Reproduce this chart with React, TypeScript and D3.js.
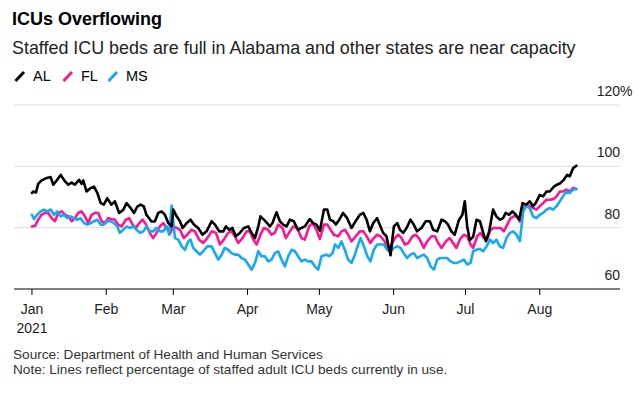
import * as d3 from "d3";

// day offsets from Jan 1 2021, percent of staffed adult ICU beds in use
const AL: [number, number][] = [[0,91.3],[0.5,91.8],[1.7,91.5],[2.6,94.3],[4,95.4],[5.8,96.1],[7.8,96.5],[8.9,94],[10.3,95.4],[12,97.2],[13.8,95.1],[15.2,94],[16.6,94.7],[17.9,94],[19.7,95.6],[20.7,94.3],[21.4,95.4],[22.8,91.8],[24.5,92.9],[25.9,93.4],[27.3,91.3],[28.7,88],[30,87.5],[31.4,89.6],[33.2,87.5],[34.6,88.6],[36.4,84.8],[38.1,85.8],[39.5,88],[41.2,86.4],[42.6,84.8],[44,86.9],[45.3,87.5],[46.7,86.9],[47.8,84.2],[49.9,82],[51.3,82],[52.7,84.8],[54.1,85.3],[55.5,84.2],[56.9,81.5],[58.3,80.4],[59,85.9],[60.4,83.7],[61.8,82.1],[62.9,79.9],[64.6,81.5],[66.2,82.6],[67.6,81],[69.4,79.9],[71.2,77.7],[72.9,78.8],[75,82.1],[76.4,81],[78.2,78.8],[79.9,78.8],[81,80.4],[82.4,79.3],[83.7,79.9],[85.1,77.2],[86.8,78.3],[88.5,79.9],[90.3,80.4],[91.7,78.3],[93.1,76.6],[94.5,80.4],[95.4,83.7],[96.8,82.6],[98.2,81.5],[99.3,80.4],[100.4,81.5],[102.1,85],[103.5,82.1],[104.9,81],[106.3,80.4],[107.7,82.6],[109.3,82.1],[111.1,79.3],[112.5,79.9],[113.9,80.4],[116,82.8],[117.4,81.5],[118.8,81],[120.2,79],[121.9,85.9],[123.3,85.9],[124.4,82.6],[125.8,82.1],[126.9,81],[128.3,82.6],[129.9,84.8],[131.6,83.1],[133.4,79.9],[135.5,82.6],[136.9,84.2],[138.3,84.8],[139.7,82.6],[141.1,78.8],[142.5,81.5],[144.1,83.1],[145.5,80.4],[146.6,78.3],[148,77.2],[148.7,74.5],[149.7,71],[151.1,80.4],[152.5,81.5],[153.6,79.3],[155,78.3],[156.4,79.9],[158,82.6],[159.4,81],[160.8,78.8],[162.6,79.9],[164.4,82.1],[166.1,82.1],[167.5,79.3],[169.2,78.8],[171,82.6],[172.4,82.1],[173.7,81],[175.1,78.8],[176.5,77.7],[178.3,82.6],[179.7,84.2],[180.7,88.6],[181.7,80.4],[182.8,76],[184.2,77],[185.6,82.6],[187,82.1],[188.4,78.3],[189.5,75.6],[190.9,78.8],[192.5,85.9],[193.9,83.7],[195.3,82.6],[196.7,83.1],[197.8,84.8],[199.2,84.2],[200.6,85.3],[202,84.2],[203.4,82.6],[204.8,88],[206.4,87.5],[207.8,88.6],[209.2,87],[210.3,88],[212,90.7],[213.4,90.2],[214.8,91.8],[216.2,91.8],[217.9,93.4],[219.2,94],[220.6,94.5],[222,95.6],[223.4,97.2],[224.5,96.7],[225.9,99.4],[227.3,100.2]];

const FL: [number, number][] = [[0,80.4],[1.3,80.6],[2.6,82.6],[4,84.2],[5.4,84.8],[6.8,84.8],[8.2,83.1],[9.6,82.1],[11,84.8],[12.4,85.3],[13.8,84.2],[15.2,83.7],[16.6,82.1],[18,83.1],[19.3,84.8],[20.7,85.3],[22.1,83.7],[23.5,81.5],[24.9,84.2],[26.3,84.8],[27.7,84.8],[29.1,82.1],[30.5,81.5],[31.8,83.1],[33.2,82.8],[34.6,82.6],[36,81],[37.4,80.4],[39.2,82.6],[40.6,83.1],[42,81],[43.4,79.9],[44.8,81.5],[46.2,82.6],[47.6,81],[49.2,78.3],[50.6,76.6],[52,78.3],[53.4,80.4],[54.8,81.5],[56.2,79.9],[57.6,78],[59,80.4],[60.4,79.9],[61.8,79.3],[63.4,76.6],[64.8,77.7],[66.6,79.3],[68,78.8],[69.8,76.1],[71.5,75],[73.2,76.6],[75,78.8],[76.8,78.3],[78.5,74.5],[80.1,76.1],[81.9,78.3],[83.3,78.8],[84.7,77.2],[86.1,75],[87.9,76.6],[89.6,78.8],[91,78.8],[92.4,76.1],[93.8,74.5],[95.4,77.7],[96.8,79.9],[98.6,79.3],[100,77.7],[101.4,78.3],[102.8,81],[104.6,79.9],[106,76.6],[107.7,78.8],[109.1,80.4],[110.7,79.9],[112.5,76.6],[113.9,76.1],[115.7,80.4],[117.1,81.5],[118.8,79.3],[120.2,76.3],[121.9,81],[123.3,81],[124.7,79.3],[126,77.7],[127.9,77.2],[129.2,78.8],[130.6,79.3],[132,77.7],[133.4,75.5],[135.2,77.2],[136.9,78.8],[138.3,78.8],[139.7,77.2],[141.3,75],[142.7,76.6],[144.1,77.7],[145.5,77.2],[147.3,75.5],[148.7,72.8],[150.1,74.5],[151.5,76.6],[152.9,77.7],[154.3,76.6],[155.7,74.5],[157.1,75],[158.9,77.2],[160.3,77.7],[161.9,76.1],[163.6,73.4],[165,75.5],[166.8,77.2],[168.2,77.2],[169.6,75],[171,73.4],[172.8,75.5],[174.4,76.6],[175.8,75],[177.2,73.4],[178.6,76.1],[180.3,77.7],[181.7,77.2],[183.1,74.5],[184.2,73.4],[185.9,77.2],[187.3,78.3],[188.6,76.6],[190,76.1],[191.4,79.3],[192.8,79.9],[194.2,79.9],[195.6,79.9],[197,78.8],[198.4,81],[199.8,83.1],[201.2,83.7],[202.5,83.7],[203.7,82],[205.1,86.4],[206.4,87.5],[207.8,87],[209.2,86.4],[210.6,85.9],[212,87],[213.4,88],[214.8,89.1],[216.2,89.1],[217.6,89.3],[219,90.2],[220.4,91.8],[221.7,91.8],[223.1,92.4],[224.5,91.8],[225.9,92.9],[227.3,92.6]];

const MS: [number, number][] = [[0,84.2],[0.8,82.8],[2.2,84.2],[3.6,85.3],[5,85.9],[6.4,85.3],[7.8,85.9],[9.2,84.2],[10.6,85.3],[12,83.7],[13.4,84.2],[14.7,83.1],[16.1,83.7],[17.5,83.1],[18.9,82.6],[20.3,83.1],[21.7,81.5],[23.1,81],[24.5,81.5],[25.9,82.1],[27.3,82.6],[28.7,81],[30,81],[31.4,82.1],[32.8,82.1],[34.2,81.5],[35.6,80.4],[36.7,78.3],[38.1,79.3],[39.5,80.4],[40.9,79.9],[42.3,80.4],[43.7,79.3],[45.1,78.3],[46.5,78.8],[47.8,80.4],[49.2,78.8],[50.6,78.8],[52,79.9],[53.4,78.8],[54.8,78.8],[56.2,80.4],[57.3,77.7],[58.3,87.2],[59.7,76.6],[61.1,76.1],[62.5,73.9],[63.9,72.8],[65.2,75.5],[66.2,76.1],[67.3,73.4],[68.7,72.3],[70.1,71.2],[71.5,72.3],[73.2,73.9],[75,73.9],[76.4,71.7],[77.8,69.6],[79.2,71.2],[80.5,73.4],[81.9,72.8],[83.3,71.7],[84.7,71.2],[86.1,71.2],[87.5,70.1],[88.9,69.6],[90.3,68],[91.7,66.3],[93.1,68.5],[94.5,72.3],[95.8,70.7],[97.2,70.7],[98.6,69],[100,69.6],[101.4,71.7],[102.8,72.3],[104.2,69.6],[105.6,67.4],[107,70.7],[108.4,72.8],[109.8,72.3],[111.1,70.7],[112.5,69],[113.9,69.6],[115.3,69],[116.7,69],[118.1,67.4],[119.5,66.3],[120.9,70.7],[122.7,71.2],[124.1,70.7],[125.5,71.7],[126.5,74.5],[127.9,73.4],[129.2,75.5],[130.6,72.8],[132,69.6],[133.4,68.5],[134.8,71.2],[136.2,74.5],[137.2,76.6],[138.6,73.9],[140,70.7],[141.3,69],[142.7,72.8],[144.1,74.5],[145.5,74.5],[146.9,74.5],[148.3,72.8],[149.7,72.3],[151.1,73.4],[152.5,73.9],[153.9,73.4],[155.2,71.7],[156.6,70.1],[158,71.2],[159.4,71.7],[160.8,70.1],[162.2,70.7],[163.6,71.2],[165,70.1],[166.4,67.4],[167.8,66.3],[169.2,69.6],[170.5,70.1],[171.9,70.1],[173.3,70.1],[174.7,69],[176.1,68.5],[177.5,68.5],[178.9,69],[180.3,69.6],[181.7,68],[183.1,68.5],[184.2,72.3],[185.6,72.8],[187,73.1],[188.4,72.3],[189.8,73.9],[191.2,76.1],[192.5,75],[193.9,76.1],[195.3,73.9],[196.7,73.4],[198.1,76.6],[199.5,78.3],[200.9,78.8],[202.3,77.7],[203.7,75.6],[205.1,85.3],[206.4,87],[207.8,86.4],[209.2,83.7],[210.6,83.1],[212,84.2],[213.4,84.8],[214.8,85.9],[216.2,86.4],[217.6,85.9],[219,87],[220.4,88.6],[221.7,90.2],[223.1,91.8],[224.5,91.3],[225.9,92.4],[227.3,92.6]];

const SERIES = [
  { key: "FL", color: "#ff1493", data: FL },
  { key: "MS", color: "#12aaf5", data: MS },
  { key: "AL", color: "#000000", data: AL },
];
const LEGEND = [
  { key: "AL", color: "#000000" },
  { key: "FL", color: "#ff1493" },
  { key: "MS", color: "#12aaf5" },
];
const Y_TICKS = [60, 80, 100, 120];
const MONTHS = ["Jan", "Feb", "Mar", "Apr", "May", "Jun", "Jul", "Aug"];

const W = 641;
const H = 394;
const X0 = 14;
const X1 = 620;
const Y_BOTTOM = 289;
const Y_TOP = 105;
const FONT = "'Liberation Sans', Arial, sans-serif";

const START = new Date(2021, 0, 1);
const toDate = (d: number) => new Date(START.getTime() + d * 86400000);

export default function App() {
  const x = d3.scaleTime()
    .domain([new Date(2020, 11, 24, 12), new Date(2021, 8, 3, 12)])
    .range([X0, X1]);
  const y = d3.scaleLinear().domain([60, 120]).range([Y_BOTTOM, Y_TOP]);

  const line = d3.line<[number, number]>()
    .x(d => x(toDate(d[0])))
    .y(d => y(d[1]));

  const monthTicks = MONTHS.map((_, i) => new Date(2021, i, 1));
  const legendX = [14, 62, 107];

  return (
    <svg width={W} height={H} style={{ position: "absolute", left: 0, top: 0, background: "#fff" }} fontFamily={FONT}>
      <text x={12} y={25} fontSize={18} fontWeight="bold" fill="#000">ICUs Overflowing</text>
      <text x={12} y={54} fontSize={17.9} fill="#222">Staffed ICU beds are full in Alabama and other states are near capacity</text>

      {/* legend */}
      {LEGEND.map((d, i) => (
        <g key={d.key} transform={`translate(${legendX[i]},0)`}>
          <line x1={1.5} y1={81} x2={10} y2={72} stroke={d.color} strokeWidth={3} />
          <text x={19} y={81} fontSize={14.5} fill="#000">{d.key}</text>
        </g>
      ))}

      {/* grid */}
      {Y_TICKS.filter(v => v > 60).map(v => (
        <line key={v} x1={X0} x2={X1} y1={y(v)} y2={y(v)} stroke="#dcdcdc" strokeWidth={1} />
      ))}
      {Y_TICKS.map(v => (
        <g key={"l" + v}>
          <text x={X1} y={y(v) - 9} fontSize={14} textAnchor="end" fill="#222">{v}</text>
          {v === 120 && <text x={X1} y={y(v) - 9} fontSize={14} fill="#222">%</text>}
        </g>
      ))}

      {/* lines */}
      {SERIES.map(s => (
        <path key={s.key} d={line(s.data) ?? ""} fill="none" stroke={s.color}
          strokeWidth={2.6} strokeLinejoin="round" strokeLinecap="round" />
      ))}

      {/* x axis */}
      <line x1={X0} x2={X1} y1={Y_BOTTOM} y2={Y_BOTTOM} stroke="#000" strokeWidth={1} />
      {monthTicks.map((m, i) => (
        <g key={i} transform={`translate(${x(m)},${Y_BOTTOM})`}>
          <line y1={0} y2={6} stroke="#000" strokeWidth={1} />
          <text y={25} fontSize={14} textAnchor="middle" fill="#222">{MONTHS[i]}</text>
          {i === 0 && <text y={44} fontSize={14} textAnchor="middle" fill="#222">2021</text>}
        </g>
      ))}

      <text x={13} y={359} fontSize={13.6} fill="#333">Source: Department of Health and Human Services</text>
      <text x={13} y={374} fontSize={13.6} fill="#333">Note: Lines reflect percentage of staffed adult ICU beds currently in use.</text>
    </svg>
  );
}
